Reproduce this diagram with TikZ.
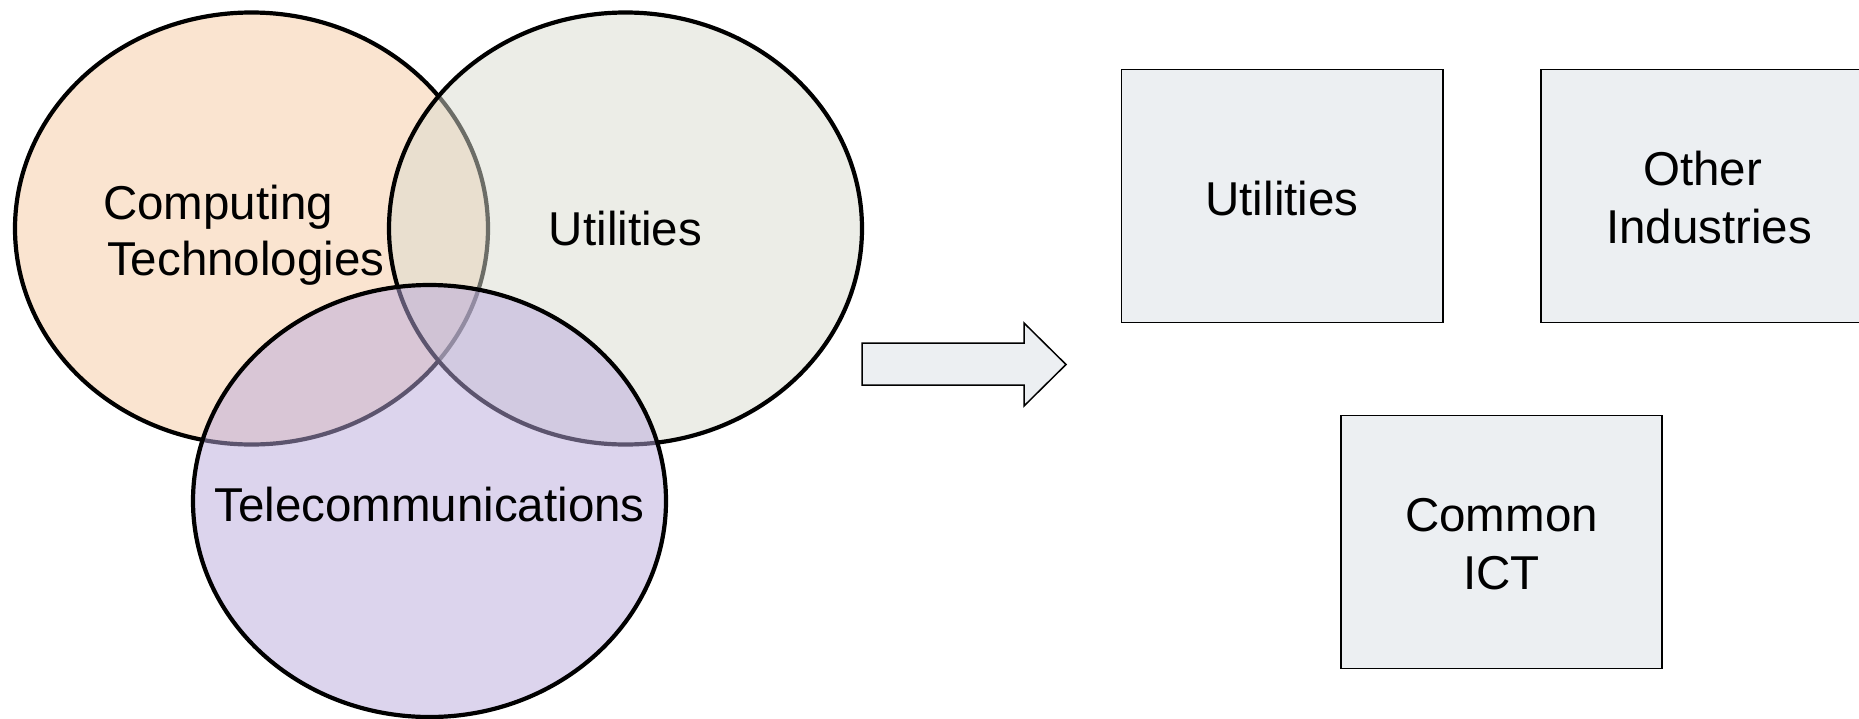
\documentclass[tikz,border=0pt]{standalone}
\usepackage{fontspec}
\setmainfont{Liberation Sans}
\usetikzlibrary{shapes.geometric}

\definecolor{compfill}{RGB}{250,228,208}
\definecolor{utilfill}{RGB}{217,219,207}
\definecolor{telefill}{RGB}{185,169,220}
\definecolor{boxfill}{RGB}{236,239,242}

\tikzset{
  venn/.style={ellipse, draw=black, line width=4.2pt, inner sep=0pt,
    minimum width=473pt, minimum height=432pt},
  lbl/.style={inner sep=0pt, font=\fontsize{47.5}{57}\selectfont},
  sectorbox/.style={rectangle, draw=black, line width=1.5pt, fill=boxfill,
    inner sep=0pt, minimum height=253pt},
}

\begin{document}
\begin{tikzpicture}[x=1pt, y=-1pt]
  \useasboundingbox (0,0) rectangle (1859,718);
  \clip (0,0) rectangle (1859,718);

  % converging domains
  \node[venn, fill=compfill] (comp) at (251.5,228.5) {};
  \node[venn, fill=utilfill, fill opacity=0.5] (util) at (625.5,228.5) {};
  \node[venn, fill=telefill, fill opacity=0.5] (tele) at (429.5,501) {};

  \node[lbl, anchor=base west] (compA) at (103,219) {Computing};
  \node[lbl, anchor=base west] (compB) at (107,275) {Technologies};
  \node[lbl, anchor=base] (utilT) at (625.5,245) {Utilities};
  \node[lbl, anchor=base] (teleT) at (429.5,521) {Telecommunications};

  % block arrow
  \draw[line width=1.5pt, fill=boxfill, line join=miter]
    (862,343) -- (1024,343) -- (1024,323) -- (1066,364.5)
    -- (1024,406) -- (1024,385) -- (862,385) -- cycle;

  % resulting sectors
  \node[sectorbox, minimum width=321.5pt] (bUtil) at (1282,196) {};
  \node[sectorbox, minimum width=336pt] (bOther) at (1709,196) {};
  \node[sectorbox, minimum width=321pt] (bICT) at (1501.5,542) {};

  \node[lbl, anchor=base] (tUtil) at (1282,215) {Utilities};
  \node[lbl, anchor=base] (tOtherA) at (1702.5,185.5) {Other};
  \node[lbl, anchor=base] (tOtherB) at (1709,243) {Industries};
  \node[lbl, anchor=base] (tICTA) at (1501.5,531.5) {Common};
  \node[lbl, anchor=base] (tICTB) at (1501.5,589) {ICT};
\end{tikzpicture}
\end{document}
